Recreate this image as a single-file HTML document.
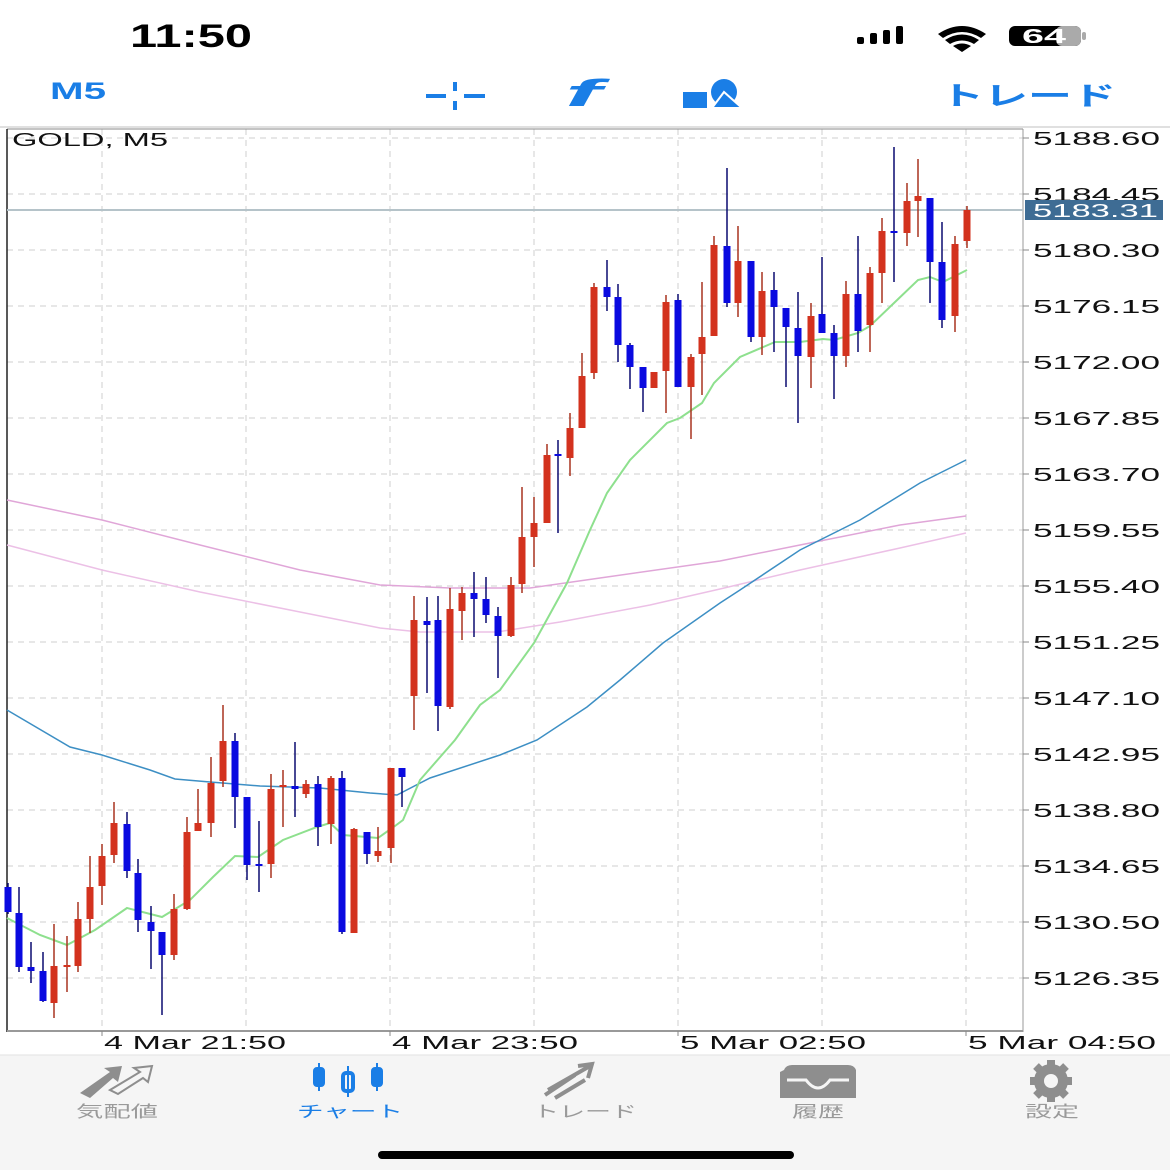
<!DOCTYPE html>
<html><head><meta charset="utf-8"><style>
html,body{margin:0;padding:0;background:#fff;width:1170px;height:1170px;overflow:hidden}
svg{display:block}
text{font-family:"Liberation Sans","Noto Sans CJK JP",sans-serif}
</style></head><body>
<svg width="1170" height="1170" viewBox="0 0 1170 1170" xmlns="http://www.w3.org/2000/svg">
<rect width="1170" height="1170" fill="#fff"/>
<text x="130" y="47" font-size="32" font-weight="bold" textLength="122" lengthAdjust="spacingAndGlyphs" fill="#000">11:50</text>
<g fill="#000"><rect x="857" y="37" width="7" height="7" rx="2"/><rect x="870" y="33" width="7" height="11" rx="2"/><rect x="883" y="30" width="7" height="14" rx="2"/><rect x="896" y="26" width="7" height="18" rx="2"/></g>
<path d="M938 34 Q962 18 986 34 L981 38 Q962 26 943 38Z M945 40 Q962 29 979 40 L974 44 Q962 37 950 44Z M953 46 Q962 41 971 46 L962 52Z" fill="#000"/>
<rect x="1009" y="26" width="72" height="20" rx="6" fill="#000"/><rect x="1056" y="26" width="25" height="20" rx="6" fill="#aaa"/><rect x="1082" y="32" width="4" height="8" rx="2" fill="#aaa"/>
<text x="1022" y="43" font-size="20" font-weight="bold" fill="#fff" textLength="44" lengthAdjust="spacingAndGlyphs">64</text>
<text x="50" y="99" font-size="24" font-weight="bold" fill="#1a7ee6" textLength="56" lengthAdjust="spacingAndGlyphs">M5</text>
<g fill="#1a7ee6"><rect x="426" y="94" width="20" height="4"/><rect x="464" y="94" width="21" height="4"/><rect x="453" y="82" width="4" height="9"/><rect x="453" y="101" width="4" height="9"/></g>
<text x="565" y="106" font-size="38" font-style="italic" font-weight="bold" fill="#1a7ee6" font-family="Liberation Serif,serif" textLength="36" lengthAdjust="spacingAndGlyphs">f</text>
<circle cx="724" cy="92" r="13" fill="#1a7ee6"/><rect x="683" y="92" width="24" height="16" fill="#1a7ee6"/><path d="M712 108 L724 92 L742 108Z" fill="#1a7ee6" stroke="#fff" stroke-width="2"/>
<text x="940" y="105" font-size="26" font-weight="bold" fill="#1a7ee6" textLength="176" lengthAdjust="spacingAndGlyphs">トレード</text>
<line x1="0" y1="127" x2="1170" y2="127" stroke="#d6d6d6" stroke-width="1.5"/>
<g stroke="#cfcfcf" stroke-width="1" stroke-dasharray="6,5">
<line x1="7" y1="138" x2="1023" y2="138"/><line x1="7" y1="194" x2="1023" y2="194"/><line x1="7" y1="250" x2="1023" y2="250"/><line x1="7" y1="306" x2="1023" y2="306"/><line x1="7" y1="362" x2="1023" y2="362"/><line x1="7" y1="418" x2="1023" y2="418"/><line x1="7" y1="474" x2="1023" y2="474"/><line x1="7" y1="530" x2="1023" y2="530"/><line x1="7" y1="586" x2="1023" y2="586"/><line x1="7" y1="642" x2="1023" y2="642"/><line x1="7" y1="698" x2="1023" y2="698"/><line x1="7" y1="754" x2="1023" y2="754"/><line x1="7" y1="810" x2="1023" y2="810"/><line x1="7" y1="866" x2="1023" y2="866"/><line x1="7" y1="922" x2="1023" y2="922"/><line x1="7" y1="978" x2="1023" y2="978"/>
<line x1="102" y1="129" x2="102" y2="1031"/><line x1="246" y1="129" x2="246" y2="1031"/><line x1="390" y1="129" x2="390" y2="1031"/><line x1="534" y1="129" x2="534" y2="1031"/><line x1="678" y1="129" x2="678" y2="1031"/><line x1="822" y1="129" x2="822" y2="1031"/><line x1="966" y1="129" x2="966" y2="1031"/>
</g>
<line x1="7" y1="129" x2="1023" y2="129" stroke="#888" stroke-width="1"/>
<line x1="7" y1="129" x2="7" y2="1032" stroke="#222" stroke-width="1.5"/>
<line x1="1023" y1="129" x2="1023" y2="1032" stroke="#999" stroke-width="1"/>
<line x1="7" y1="1031" x2="1023" y2="1031" stroke="#999" stroke-width="2"/>
<g stroke="#888"><line x1="102" y1="1031" x2="102" y2="1036"/><line x1="390" y1="1031" x2="390" y2="1036"/><line x1="678" y1="1031" x2="678" y2="1036"/><line x1="966" y1="1031" x2="966" y2="1036"/></g>
<g stroke="#888"><line x1="1023" y1="138" x2="1029" y2="138"/><line x1="1023" y1="194" x2="1029" y2="194"/><line x1="1023" y1="250" x2="1029" y2="250"/><line x1="1023" y1="306" x2="1029" y2="306"/><line x1="1023" y1="362" x2="1029" y2="362"/><line x1="1023" y1="418" x2="1029" y2="418"/><line x1="1023" y1="474" x2="1029" y2="474"/><line x1="1023" y1="530" x2="1029" y2="530"/><line x1="1023" y1="586" x2="1029" y2="586"/><line x1="1023" y1="642" x2="1029" y2="642"/><line x1="1023" y1="698" x2="1029" y2="698"/><line x1="1023" y1="754" x2="1029" y2="754"/><line x1="1023" y1="810" x2="1029" y2="810"/><line x1="1023" y1="866" x2="1029" y2="866"/><line x1="1023" y1="922" x2="1029" y2="922"/><line x1="1023" y1="978" x2="1029" y2="978"/></g>
<text x="12" y="146" font-size="18" fill="#111" textLength="156" lengthAdjust="spacingAndGlyphs">GOLD, M5</text>
<polyline fill="none" stroke="#e0a6d8" stroke-width="1.5" points="7,500 102,520 200,545 300,570 380,585 450,588 497,588 530,588 600,578 720,561 800,545 900,525 966,516"/>
<polyline fill="none" stroke="#ecc0e6" stroke-width="1.5" points="7,545 102,570 200,592 300,612 380,628 420,632 497,632 560,622 650,605 720,589 800,570 900,548 966,533"/>
<polyline fill="none" stroke="#3d8fc4" stroke-width="1.5" points="7,710 70,747 102,755 150,770 175,779 210,782 260,786 320,788 370,793 397,795 430,778 500,755 537,740 587,707 620,680 663,643 720,603 740,590 800,550 860,520 920,483 966,460"/>
<polyline fill="none" stroke="#8ee08e" stroke-width="2" points="7,918 40,935 67,945 95,930 127,908 162,917 190,900 213,877 235,856 258,857 283,840 317,827 330,823 343,835 378,838 395,826 403,820 420,780 455,740 480,705 500,690 534,643 567,583 590,530 607,493 630,460 667,423 680,418 702,403 714,383 740,357 775,342 800,342 823,339 834,340 858,333 870,326 894,303 918,280 930,277 943,282 967,270"/>
<line x1="7" y1="210" x2="1023" y2="210" stroke="#b5c3c9" stroke-width="2"/>
<g stroke-width="1.5">
<g stroke="#0a0a70"><line x1="8" y1="883" x2="8" y2="914"/><line x1="19" y1="887" x2="19" y2="972"/><line x1="31" y1="942" x2="31" y2="983"/><line x1="43" y1="952" x2="43" y2="1002"/><line x1="127" y1="812" x2="127" y2="878"/><line x1="138" y1="859" x2="138" y2="932"/><line x1="151" y1="906" x2="151" y2="969"/><line x1="162" y1="932" x2="162" y2="1015"/><line x1="235" y1="733" x2="235" y2="828"/><line x1="247" y1="797" x2="247" y2="880"/><line x1="259" y1="821" x2="259" y2="892"/><line x1="295" y1="742" x2="295" y2="817"/><line x1="318" y1="776" x2="318" y2="846"/><line x1="342" y1="771" x2="342" y2="934"/><line x1="367" y1="832" x2="367" y2="864"/><line x1="402" y1="768" x2="402" y2="807"/><line x1="427" y1="597" x2="427" y2="693"/><line x1="438" y1="596" x2="438" y2="731"/><line x1="474" y1="572" x2="474" y2="637"/><line x1="486" y1="577" x2="486" y2="623"/><line x1="498" y1="607" x2="498" y2="678"/><line x1="558" y1="440" x2="558" y2="533"/><line x1="607" y1="260" x2="607" y2="311"/><line x1="618" y1="284" x2="618" y2="362"/><line x1="630" y1="343" x2="630" y2="389"/><line x1="643" y1="367" x2="643" y2="412"/><line x1="678" y1="294" x2="678" y2="387"/><line x1="727" y1="168" x2="727" y2="307"/><line x1="751" y1="261" x2="751" y2="342"/><line x1="774" y1="272" x2="774" y2="352"/><line x1="786" y1="308" x2="786" y2="387"/><line x1="798" y1="292" x2="798" y2="423"/><line x1="822" y1="257" x2="822" y2="333"/><line x1="834" y1="325" x2="834" y2="399"/><line x1="858" y1="236" x2="858" y2="352"/><line x1="894" y1="147" x2="894" y2="282"/><line x1="930" y1="198" x2="930" y2="303"/><line x1="942" y1="222" x2="942" y2="328"/></g>
<g stroke="#a8321f"><line x1="54" y1="924" x2="54" y2="1018"/><line x1="67" y1="936" x2="67" y2="992"/><line x1="78" y1="902" x2="78" y2="972"/><line x1="90" y1="856" x2="90" y2="933"/><line x1="102" y1="844" x2="102" y2="905"/><line x1="114" y1="802" x2="114" y2="863"/><line x1="174" y1="894" x2="174" y2="960"/><line x1="187" y1="817" x2="187" y2="910"/><line x1="198" y1="789" x2="198" y2="831"/><line x1="211" y1="757" x2="211" y2="837"/><line x1="223" y1="705" x2="223" y2="787"/><line x1="271" y1="774" x2="271" y2="878"/><line x1="283" y1="770" x2="283" y2="827"/><line x1="306" y1="780" x2="306" y2="798"/><line x1="331" y1="776" x2="331" y2="844"/><line x1="354" y1="828" x2="354" y2="933"/><line x1="378" y1="827" x2="378" y2="862"/><line x1="391" y1="768" x2="391" y2="863"/><line x1="414" y1="596" x2="414" y2="730"/><line x1="450" y1="588" x2="450" y2="709"/><line x1="462" y1="587" x2="462" y2="640"/><line x1="511" y1="577" x2="511" y2="637"/><line x1="522" y1="487" x2="522" y2="593"/><line x1="534" y1="497" x2="534" y2="567"/><line x1="547" y1="444" x2="547" y2="523"/><line x1="570" y1="413" x2="570" y2="476"/><line x1="582" y1="353" x2="582" y2="428"/><line x1="594" y1="283" x2="594" y2="379"/><line x1="654" y1="372" x2="654" y2="388"/><line x1="666" y1="295" x2="666" y2="413"/><line x1="691" y1="354" x2="691" y2="439"/><line x1="702" y1="282" x2="702" y2="395"/><line x1="714" y1="236" x2="714" y2="336"/><line x1="738" y1="226" x2="738" y2="317"/><line x1="762" y1="272" x2="762" y2="355"/><line x1="811" y1="303" x2="811" y2="388"/><line x1="846" y1="281" x2="846" y2="367"/><line x1="870" y1="267" x2="870" y2="352"/><line x1="882" y1="218" x2="882" y2="303"/><line x1="907" y1="183" x2="907" y2="246"/><line x1="918" y1="159" x2="918" y2="237"/><line x1="955" y1="236" x2="955" y2="332"/><line x1="967" y1="206" x2="967" y2="248"/></g>
</g>
<g fill="#0a0ae0">
<rect x="4.5" y="887" width="7" height="25"/><rect x="15.5" y="913" width="7" height="54"/><rect x="27.5" y="967" width="7" height="4"/><rect x="39.5" y="971" width="7" height="30"/><rect x="123.5" y="824" width="7" height="47"/><rect x="134.5" y="873" width="7" height="47"/><rect x="147.5" y="922" width="7" height="9"/><rect x="158.5" y="932" width="7" height="23"/><rect x="231.5" y="741" width="7" height="56"/><rect x="243.5" y="797" width="7" height="68"/><rect x="255.5" y="864" width="7" height="2"/><rect x="291.5" y="786" width="7" height="3"/><rect x="314.5" y="784" width="7" height="43"/><rect x="338.5" y="778" width="7" height="154"/><rect x="363.5" y="832" width="7" height="22"/><rect x="398.5" y="768" width="7" height="9"/><rect x="423.5" y="621" width="7" height="4"/><rect x="434.5" y="620" width="7" height="86"/><rect x="470.5" y="593" width="7" height="6"/><rect x="482.5" y="599" width="7" height="16"/><rect x="494.5" y="616" width="7" height="20"/><rect x="554.5" y="454" width="7" height="2"/><rect x="603.5" y="287" width="7" height="10"/><rect x="614.5" y="297" width="7" height="48"/><rect x="626.5" y="345" width="7" height="22"/><rect x="639.5" y="367" width="7" height="21"/><rect x="674.5" y="300" width="7" height="87"/><rect x="723.5" y="246" width="7" height="57"/><rect x="747.5" y="261" width="7" height="76"/><rect x="770.5" y="290" width="7" height="17"/><rect x="782.5" y="308" width="7" height="19"/><rect x="794.5" y="328" width="7" height="28"/><rect x="818.5" y="314" width="7" height="19"/><rect x="830.5" y="333" width="7" height="23"/><rect x="854.5" y="294" width="7" height="37"/><rect x="890.5" y="231" width="7" height="2"/><rect x="926.5" y="198" width="7" height="64"/><rect x="938.5" y="262" width="7" height="58"/>
</g>
<g fill="#d3321e">
<rect x="50.5" y="966" width="7" height="37"/><rect x="63.5" y="965" width="7" height="2"/><rect x="74.5" y="919" width="7" height="47"/><rect x="86.5" y="887" width="7" height="32"/><rect x="98.5" y="856" width="7" height="30"/><rect x="110.5" y="823" width="7" height="32"/><rect x="170.5" y="909" width="7" height="46"/><rect x="183.5" y="832" width="7" height="77"/><rect x="194.5" y="823" width="7" height="8"/><rect x="207.5" y="783" width="7" height="40"/><rect x="219.5" y="741" width="7" height="40"/><rect x="267.5" y="789" width="7" height="75"/><rect x="279.5" y="785" width="7" height="2"/><rect x="302.5" y="784" width="7" height="10"/><rect x="327.5" y="778" width="7" height="46"/><rect x="350.5" y="829" width="7" height="104"/><rect x="374.5" y="851" width="7" height="5"/><rect x="387.5" y="768" width="7" height="80"/><rect x="410.5" y="620" width="7" height="76"/><rect x="446.5" y="609" width="7" height="98"/><rect x="458.5" y="593" width="7" height="18"/><rect x="507.5" y="585" width="7" height="51"/><rect x="518.5" y="537" width="7" height="47"/><rect x="530.5" y="523" width="7" height="14"/><rect x="543.5" y="455" width="7" height="68"/><rect x="566.5" y="428" width="7" height="30"/><rect x="578.5" y="376" width="7" height="52"/><rect x="590.5" y="287" width="7" height="86"/><rect x="650.5" y="372" width="7" height="16"/><rect x="662.5" y="302" width="7" height="69"/><rect x="687.5" y="357" width="7" height="30"/><rect x="698.5" y="337" width="7" height="17"/><rect x="710.5" y="245" width="7" height="91"/><rect x="734.5" y="261" width="7" height="42"/><rect x="758.5" y="291" width="7" height="46"/><rect x="807.5" y="316" width="7" height="41"/><rect x="842.5" y="294" width="7" height="62"/><rect x="866.5" y="273" width="7" height="52"/><rect x="878.5" y="231" width="7" height="42"/><rect x="903.5" y="201" width="7" height="32"/><rect x="914.5" y="196" width="7" height="5"/><rect x="951.5" y="244" width="7" height="72"/><rect x="963.5" y="210" width="7" height="31"/>
</g>
<g font-size="18" fill="#111">
<text x="1033" y="145" textLength="127" lengthAdjust="spacingAndGlyphs">5188.60</text>
<text x="1033" y="201" textLength="127" lengthAdjust="spacingAndGlyphs">5184.45</text>
<text x="1033" y="257" textLength="127" lengthAdjust="spacingAndGlyphs">5180.30</text>
<text x="1033" y="313" textLength="127" lengthAdjust="spacingAndGlyphs">5176.15</text>
<text x="1033" y="369" textLength="127" lengthAdjust="spacingAndGlyphs">5172.00</text>
<text x="1033" y="425" textLength="127" lengthAdjust="spacingAndGlyphs">5167.85</text>
<text x="1033" y="481" textLength="127" lengthAdjust="spacingAndGlyphs">5163.70</text>
<text x="1033" y="537" textLength="127" lengthAdjust="spacingAndGlyphs">5159.55</text>
<text x="1033" y="593" textLength="127" lengthAdjust="spacingAndGlyphs">5155.40</text>
<text x="1033" y="649" textLength="127" lengthAdjust="spacingAndGlyphs">5151.25</text>
<text x="1033" y="705" textLength="127" lengthAdjust="spacingAndGlyphs">5147.10</text>
<text x="1033" y="761" textLength="127" lengthAdjust="spacingAndGlyphs">5142.95</text>
<text x="1033" y="817" textLength="127" lengthAdjust="spacingAndGlyphs">5138.80</text>
<text x="1033" y="873" textLength="127" lengthAdjust="spacingAndGlyphs">5134.65</text>
<text x="1033" y="929" textLength="127" lengthAdjust="spacingAndGlyphs">5130.50</text>
<text x="1033" y="985" textLength="127" lengthAdjust="spacingAndGlyphs">5126.35</text>
</g>
<rect x="1025" y="200" width="138" height="20" fill="#3e6c94"/>
<text x="1033" y="217" font-size="18" fill="#fff" textLength="125" lengthAdjust="spacingAndGlyphs">5183.31</text>
<g font-size="18" fill="#111">
<text x="104" y="1049" textLength="182" lengthAdjust="spacingAndGlyphs">4 Mar 21:50</text>
<text x="392" y="1049" textLength="186" lengthAdjust="spacingAndGlyphs">4 Mar 23:50</text>
<text x="680" y="1049" textLength="186" lengthAdjust="spacingAndGlyphs">5 Mar 02:50</text>
<text x="968" y="1049" textLength="188" lengthAdjust="spacingAndGlyphs">5 Mar 04:50</text>
</g>
<rect x="0" y="1055" width="1170" height="115" fill="#f5f5f5"/>
<line x1="0" y1="1055" x2="1170" y2="1055" stroke="#e2e2e2"/>
<g fill="#8e8e8e">
<path d="M80 1093 L110 1072 L104 1068 L122 1066 L118 1082 L113 1078 L90 1098Z"/>
<path d="M110 1090 L140 1072 L134 1068 L152 1066 L148 1082 L143 1078 L118 1094Z" fill="none" stroke="#8e8e8e" stroke-width="2"/>
<path d="M545 1095 L575 1075 M555 1098 L585 1080 M548 1090 L590 1066 M578 1066 L592 1064 L588 1078" stroke="#8e8e8e" stroke-width="4" fill="none"/>
<path d="M784 1070 Q786 1065 792 1065 L848 1065 Q854 1065 856 1070 L856 1098 L780 1098 L780 1072Z"/>
<path d="M787 1080 L806 1080 Q818 1096 830 1080 L849 1080" stroke="#f5f5f5" stroke-width="3" fill="none"/>
<circle cx="1051" cy="1081" r="17"/>
<g stroke="#8e8e8e" stroke-width="8"><line x1="1051" y1="1060" x2="1051" y2="1102"/><line x1="1030" y1="1081" x2="1072" y2="1081"/><line x1="1036" y1="1066" x2="1066" y2="1096"/><line x1="1066" y1="1066" x2="1036" y2="1096"/></g>
<circle cx="1051" cy="1081" r="7" fill="#f5f5f5"/>
</g>
<g fill="#1a7ee6" stroke="#1a7ee6" stroke-width="2">
<rect x="314" y="1068" width="10" height="18" rx="3"/><line x1="319" y1="1063" x2="319" y2="1091"/>
<rect x="343" y="1073" width="10" height="18" rx="3" fill="#f5f5f5" stroke-width="4"/><line x1="348" y1="1066" x2="348" y2="1097"/>
<rect x="372" y="1068" width="10" height="18" rx="3"/><line x1="377" y1="1063" x2="377" y2="1091"/>
</g>
<g font-size="16" fill="#9a9a9a">
<text x="76" y="1117" textLength="82" lengthAdjust="spacingAndGlyphs">気配値</text>
<text x="533" y="1117" textLength="104" lengthAdjust="spacingAndGlyphs">トレード</text>
<text x="792" y="1117" textLength="52" lengthAdjust="spacingAndGlyphs">履歴</text>
<text x="1025" y="1117" textLength="54" lengthAdjust="spacingAndGlyphs">設定</text>
</g>
<text x="297" y="1117" font-size="16" fill="#1a7ee6" textLength="106" lengthAdjust="spacingAndGlyphs">チャート</text>
<rect x="378" y="1151" width="416" height="8" rx="4" fill="#000"/>
</svg>
</body></html>
